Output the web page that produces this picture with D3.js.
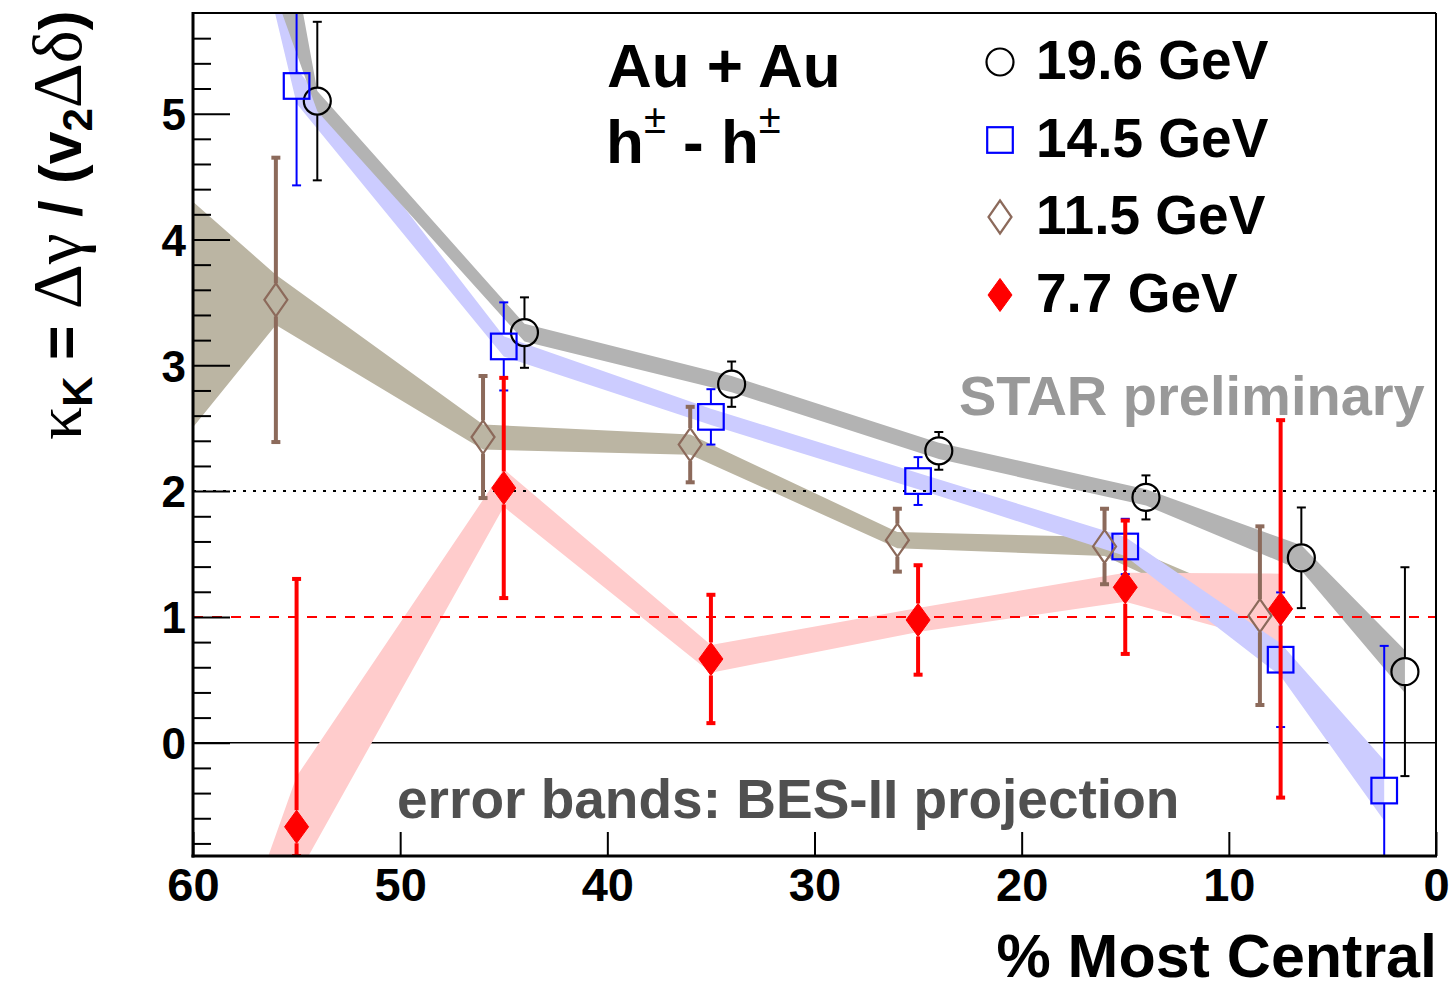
<!DOCTYPE html>
<html>
<head>
<meta charset="utf-8">
<script src="https://cdn.jsdelivr.net/npm/d3@7"></script>
<style>
  html, body { margin: 0; padding: 0; background: #fff; }
  svg { display: block; }
  text { font-family: "Liberation Sans", Arial, Helvetica, sans-serif; white-space: pre; }
</style>
</head>
<body>
<svg id="chart" width="1451" height="989"></svg>
<script>
// ---- data -------------------------------------------------------------
// centrality bins (% most central); the 60-70% bin lies beyond the axis range
const centrality = [65, 55, 45, 35, 25, 15, 7.5, 2.5];

const energies = ["19.6 GeV", "14.5 GeV", "11.5 GeV", "7.7 GeV"];
// horizontal offsets (in % centrality) applied to each energy for readability
const xShift = [-1, 0, 1, 0];

// kappa_K values, statistical errors and projected (BES-II) band half-widths
const kappa196 = [11.9, 5.10, 3.26, 2.85, 2.32, 1.95, 1.47, 0.565];
const stat196  = [null, 0.63, 0.28, 0.18, 0.15, 0.175, 0.40, 0.83];
const band196  = [2.3, 0.08, 0.07, 0.065, 0.065, 0.065, 0.10, 0.17];

const kappa145 = [22, 5.22, 3.15, 2.59, 2.08, 1.56, 0.66, -0.38];
const stat145  = [null, 0.79, 0.35, 0.22, 0.19, 0.22, 0.535, 1.15];
const band145  = [10, 0.14, 0.08, 0.065, 0.065, 0.075, 0.13, 0.24];

const kappa115 = [3.23, 3.52, 2.43, 2.37, 1.61, 1.56, 1.01, null];
const stat115  = [null, 1.13, 0.485, 0.30, 0.25, 0.30, 0.71, null];
const band115  = [1.94, 0.20, 0.10, 0.08, 0.065, 0.075, 0.10, null];

const kappa77  = [-7.9, -0.668, 2.025, 0.666, 0.976, 1.236, 1.064, null];
const stat77   = [null, 1.97, 0.875, 0.51, 0.435, 0.53, 1.50, null];
const band77   = [3.0, 0.40, 0.15, 0.11, 0.095, 0.115, 0.28, null];

const xTicks = [60, 50, 40, 30, 20, 10, 0];
const yMajorTicks = [0, 1, 2, 3, 4, 5];
const yMinorTicks = d3.range(-4, 29).map(k => k / 5).filter(v => Math.abs(v - Math.round(v)) > 1e-6);

// ---- layout -----------------------------------------------------------
const svg = d3.select("#chart");
const x = d3.scaleLinear().domain([60, 0]).range([193, 1436]);
const y = d3.scaleLinear().domain([-0.9, 5.8]).range([856, 13]);
const [yLo, yHi] = y.domain();

const series = [
  { name: energies[0], vals: kappa196, stat: stat196, band: band196, shift: xShift[0],
    marker: "circle", color: "#000000", bandColor: "#b3b3b3", barWidth: 2 },
  { name: energies[1], vals: kappa145, stat: stat145, band: band145, shift: xShift[1],
    marker: "square", color: "#0000ff", bandColor: "#ccccff", barWidth: 2 },
  { name: energies[2], vals: kappa115, stat: stat115, band: band115, shift: xShift[2],
    marker: "openDiamond", color: "#8c6a5b", bandColor: "#bbb5a3", barWidth: 4 },
  { name: energies[3], vals: kappa77, stat: stat77, band: band77, shift: xShift[3],
    marker: "fullDiamond", color: "#ff0000", bandColor: "#ffcccc", barWidth: 4 }
];
series.forEach(s => {
  s.points = centrality.map((c, i) => ({ x: c + s.shift, y: s.vals[i], e: s.stat[i], b: s.band[i] }))
                       .filter(d => d.y !== null);
});

const defs = svg.append("defs");
defs.append("clipPath").attr("id", "plotArea").append("rect")
  .attr("x", x(60)).attr("y", y(yHi))
  .attr("width", x(0) - x(60)).attr("height", y(yLo) - y(yHi));

const plot = svg.append("g").attr("clip-path", "url(#plotArea)");

// zero line sits underneath the bands
plot.append("line")
  .attr("x1", x(60)).attr("x2", x(0)).attr("y1", y(0)).attr("y2", y(0))
  .attr("stroke", "#000").attr("stroke-width", 1.5);

// ---- projected error bands --------------------------------------------
const bandArea = d3.area()
  .x(d => x(d.x))
  .y0(d => y(d.y - d.b))
  .y1(d => y(d.y + d.b))
  .curve(d3.curveLinear);

[2, 3, 1, 0].forEach(k => {
  const s = series[k];
  plot.append("path")
    .datum(s.points.filter(d => d.b !== null))
    .attr("d", bandArea)
    .attr("fill", s.bandColor)
    .attr("stroke", "none");
});

// reference lines
plot.append("line")
  .attr("x1", x(60)).attr("x2", x(0)).attr("y1", y(2)).attr("y2", y(2))
  .attr("stroke", "#000").attr("stroke-width", 2).attr("stroke-dasharray", "3,7");
plot.append("line")
  .attr("x1", x(60)).attr("x2", x(0)).attr("y1", y(1)).attr("y2", y(1))
  .attr("stroke", "#ff0000").attr("stroke-width", 2).attr("stroke-dasharray", "10,9");

// ---- markers ----------------------------------------------------------
const markerHalfHeight = { circle: 14, square: 13, openDiamond: 16.5, fullDiamond: 16.5 };

function drawMarker(g, type, cx, cy, color) {
  if (type === "circle") {
    g.append("circle").attr("cx", cx).attr("cy", cy).attr("r", 13.5)
      .attr("fill", "none").attr("stroke", color).attr("stroke-width", 2.2);
  } else if (type === "square") {
    g.append("rect").attr("x", cx - 12.8).attr("y", cy - 12.8).attr("width", 25.6).attr("height", 25.6)
      .attr("fill", "none").attr("stroke", color).attr("stroke-width", 2.2);
  } else {
    const w = type === "openDiamond" ? 11.5 : 12, h = 16.5;
    const p = `M${cx},${cy - h}L${cx + w},${cy}L${cx},${cy + h}L${cx - w},${cy}Z`;
    g.append("path").attr("d", p)
      .attr("fill", type === "fullDiamond" ? color : "none")
      .attr("stroke", color).attr("stroke-width", type === "fullDiamond" ? 1 : 2.2)
      .attr("stroke-linejoin", "miter");
  }
}

series.forEach(s => {
  const g = plot.append("g");
  s.points.filter(d => d.e !== null).forEach(d => {
    const cx = x(d.x), cy = y(d.y);
    const gap = markerHalfHeight[s.marker];
    const hi = Math.min(d.y + d.e, yHi), lo = Math.max(d.y - d.e, yLo);
    const yTop = y(hi), yBot = y(lo);
    const capHalf = 4.5;
    if (yTop < cy - gap) {
      g.append("line").attr("x1", cx).attr("x2", cx).attr("y1", yTop).attr("y2", cy - gap)
        .attr("stroke", s.color).attr("stroke-width", s.barWidth);
      g.append("line").attr("x1", cx - capHalf).attr("x2", cx + capHalf).attr("y1", yTop).attr("y2", yTop)
        .attr("stroke", s.color).attr("stroke-width", s.barWidth);
    }
    if (yBot > cy + gap) {
      g.append("line").attr("x1", cx).attr("x2", cx).attr("y1", cy + gap).attr("y2", yBot)
        .attr("stroke", s.color).attr("stroke-width", s.barWidth);
      g.append("line").attr("x1", cx - capHalf).attr("x2", cx + capHalf).attr("y1", yBot).attr("y2", yBot)
        .attr("stroke", s.color).attr("stroke-width", s.barWidth);
    }
    drawMarker(g, s.marker, cx, cy, s.color);
  });
});

// ---- axes -------------------------------------------------------------
const yAxisMajor = d3.axisLeft(y).tickValues(yMajorTicks).tickSizeInner(-37).tickSizeOuter(0)
  .tickPadding(7).tickFormat(d3.format("d"));
const gy = svg.append("g").attr("transform", `translate(${x(60)},0)`).call(yAxisMajor);
gy.select(".domain").remove();
gy.selectAll(".tick line").attr("stroke", "#000").attr("stroke-width", 2);
gy.selectAll(".tick text").attr("font-size", 44).attr("font-weight", "bold").attr("fill", "#000")
  .attr("font-family", "Liberation Sans, Arial, sans-serif").attr("dy", "0.36em");

const yAxisMinor = d3.axisLeft(y).tickValues(yMinorTicks).tickSizeInner(-18).tickSizeOuter(0).tickFormat("");
const gym = svg.append("g").attr("transform", `translate(${x(60)},0)`).call(yAxisMinor);
gym.select(".domain").remove();
gym.selectAll(".tick line").attr("stroke", "#000").attr("stroke-width", 2);

const xAxis = d3.axisBottom(x).tickValues(xTicks).tickSizeInner(-24).tickSizeOuter(0)
  .tickPadding(12).tickFormat(d3.format("d"));
const gx = svg.append("g").attr("transform", `translate(0,${y(yLo)})`).call(xAxis);
gx.select(".domain").remove();
gx.selectAll(".tick line").attr("stroke", "#000").attr("stroke-width", 2);
gx.selectAll(".tick text").attr("font-size", 47).attr("font-weight", "bold").attr("fill", "#000")
  .attr("font-family", "Liberation Sans, Arial, sans-serif");

// frame
svg.append("line").attr("x1", x(60)).attr("x2", x(0)).attr("y1", y(yHi)).attr("y2", y(yHi))
  .attr("stroke", "#000").attr("stroke-width", 2);
svg.append("line").attr("x1", x(0)).attr("x2", x(0)).attr("y1", y(yHi)).attr("y2", y(yLo))
  .attr("stroke", "#000").attr("stroke-width", 2);
svg.append("line").attr("x1", x(60)).attr("x2", x(60)).attr("y1", y(yHi) - 1).attr("y2", y(yLo) + 1.5)
  .attr("stroke", "#000").attr("stroke-width", 3);
svg.append("line").attr("x1", x(60) - 1.5).attr("x2", x(0) + 1).attr("y1", y(yLo)).attr("y2", y(yLo))
  .attr("stroke", "#000").attr("stroke-width", 3);

// axis titles
svg.append("text").attr("x", 1437).attr("y", 977).attr("text-anchor", "end")
  .attr("font-size", 61).attr("font-weight", "bold").text("% Most Central");

const yTitle = svg.append("text").attr("transform", "translate(81,440) rotate(-90)")
  .attr("font-size", 59).attr("font-weight", "bold");
const greek = sel => sel.attr("font-family", "Liberation Serif, DejaVu Serif, serif").attr("font-weight", "normal");
yTitle.append("tspan").call(greek).attr("font-size", 66).text("κ");
yTitle.append("tspan").attr("font-size", 42).attr("dy", 11).text("K");
yTitle.append("tspan").attr("dy", -11).text(" = ");
yTitle.append("tspan").call(greek).attr("font-size", 70).text("Δγ");
yTitle.append("tspan").text(" / (v");
yTitle.append("tspan").attr("font-size", 42).attr("dy", 11).text("2");
yTitle.append("tspan").call(greek).attr("font-size", 70).attr("dy", -11).text("Δδ");
yTitle.append("tspan").text(")");

// ---- annotations ------------------------------------------------------
svg.append("text").attr("x", 607).attr("y", 87).attr("font-size", 62).attr("font-weight", "bold")
  .text("Au + Au");
const pair = svg.append("text").attr("x", 606).attr("y", 163).attr("font-size", 62).attr("font-weight", "bold");
pair.append("tspan").text("h");
pair.append("tspan").attr("font-size", 40).attr("font-weight", "normal").attr("dy", -30).text("±");
pair.append("tspan").attr("dy", 30).text(" - h");
pair.append("tspan").attr("font-size", 40).attr("font-weight", "normal").attr("dy", -30).text("±");

svg.append("text").attr("x", 959).attr("y", 415).attr("font-size", 56).attr("font-weight", "bold")
  .attr("fill", "#999999").text("STAR preliminary");
svg.append("text").attr("x", 397).attr("y", 818).attr("font-size", 55).attr("font-weight", "bold")
  .attr("fill", "#505050").text("error bands: BES-II projection");

// ---- legend -----------------------------------------------------------
const legend = svg.append("g");
const legendRows = [62, 140, 217, 295];
series.forEach((s, i) => {
  drawMarker(legend, s.marker, 1000, legendRows[i], s.color);
  legend.append("text").attr("x", 1036).attr("y", legendRows[i] + 17)
    .attr("font-size", 55).attr("font-weight", "bold").text(s.name);
});
</script>
</body>
</html>
